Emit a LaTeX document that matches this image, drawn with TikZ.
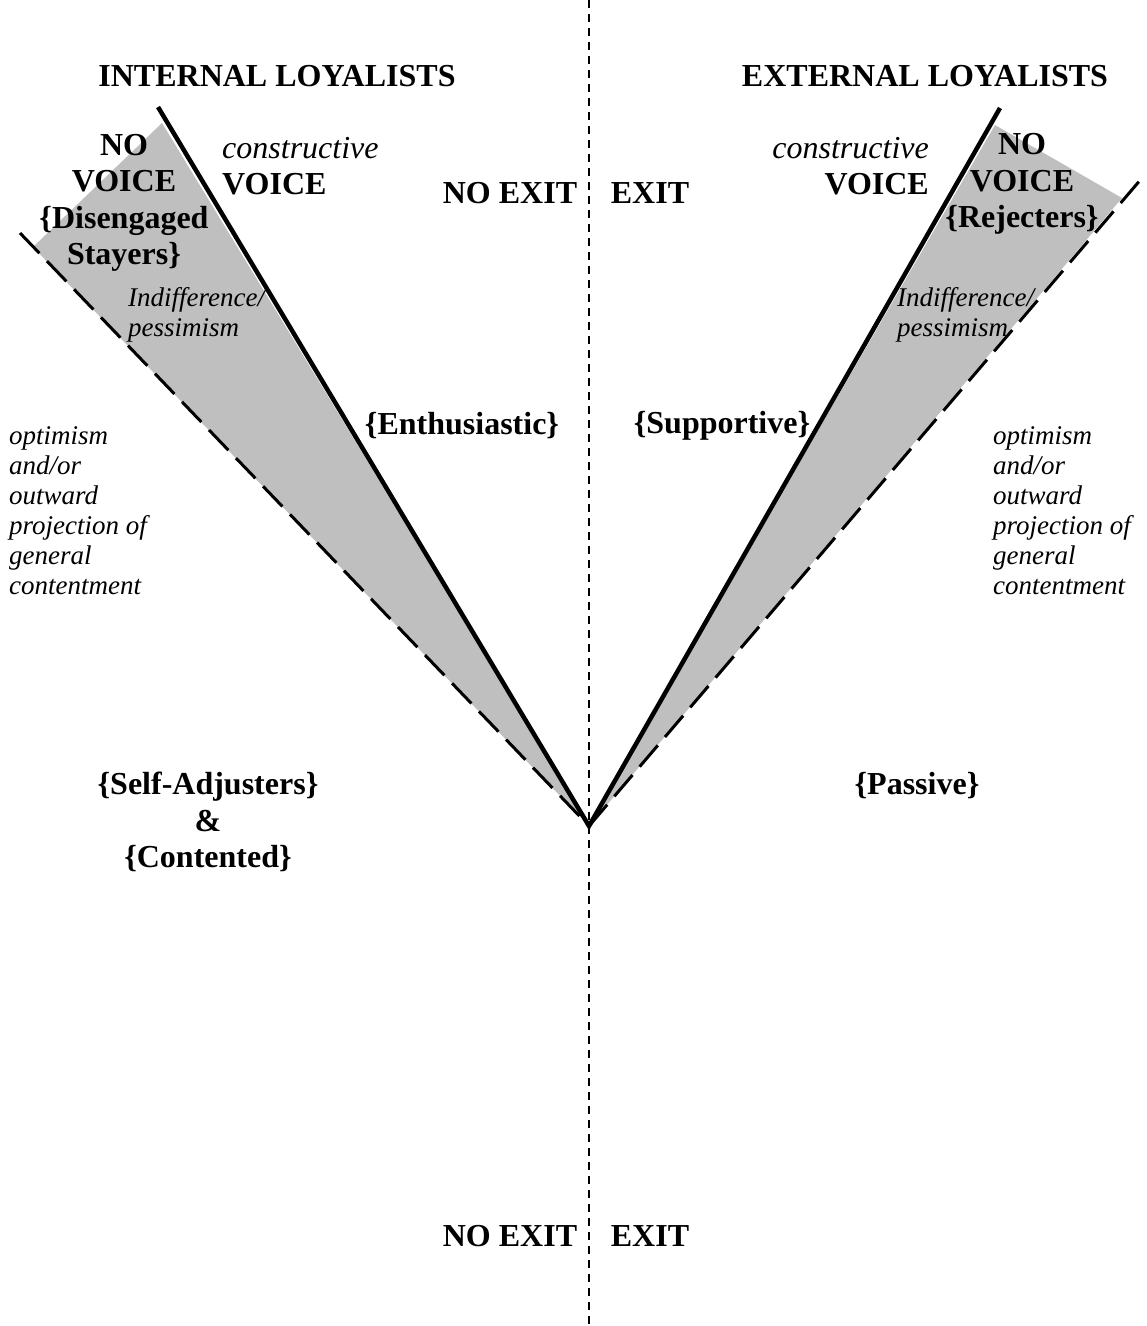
\documentclass[tikz,border=0pt]{standalone}
\usepackage{fontspec}
\setmainfont{Liberation Serif}
\begin{document}
\begin{tikzpicture}[x=1pt,y=-1pt,
    head/.style={font=\fontsize{32}{37}\selectfont\bfseries, inner sep=0pt},
    grp/.style={font=\fontsize{32}{36.5}\selectfont\bfseries, inner sep=0pt, align=center},
    small/.style={font=\fontsize{27}{30}\selectfont\itshape, inner sep=0pt, align=left},
    voiceline/.style={line width=4.5pt},
    exitline/.style={line width=3pt, dash pattern=on 28pt off 11pt},
    axis/.style={line width=1.4pt, dash pattern=on 8pt off 6pt}]
    \useasboundingbox (0,0) rectangle (1147,1326);
    \coordinate (apex) at (589,826);
    \coordinate (lTop) at (158,107);
    \coordinate (lDash) at (20,233);
    \coordinate (rTop) at (1000,108);
    \coordinate (rDash) at (1142,178);
    % Shaded wedges
    \fill[black!25] (apex) -- (162,123) -- (33,247) -- cycle;
    \fill[black!25] (apex) -- (995,125) -- (1122,198) -- cycle;
    % Boundary lines
    \draw[voiceline] (lTop) -- (apex) -- (rTop);
    \draw[exitline] (lDash) -- (apex);
    \draw[exitline] (apex) -- (rDash);
    \coordinate (axTop) at (589,0);
    \coordinate (axBot) at (589,1326);
    \draw[axis] (axTop) -- (axBot);
    % Headings
    \node[head] (intl) at (277,76) {INTERNAL LOYALISTS};
    \node[head] (extl) at (925,76) {EXTERNAL LOYALISTS};
    \node[head] (noexit1) at (510,193) {NO EXIT};
    \node[head] (exit1) at (650,193) {EXIT};
    \node[head] (noexit2) at (510,1236) {NO EXIT};
    \node[head] (exit2) at (650,1236) {EXIT};
    % Voice labels
    \node[grp] (novoiceL) at (124,203) {NO\\VOICE\\\{Disengaged\\Stayers\}};
    \node[grp] (novoiceR) at (1022,184) {NO\\VOICE\\\{Rejecters\}};
    \node[grp, anchor=west, align=left] (voiceL) at (222,166) {\textit{\mdseries constructive}\\VOICE};
    \node[grp, anchor=east, align=right] (voiceR) at (929,166) {\textit{\mdseries constructive}\\VOICE};
    \node[small, anchor=west] (indifL) at (128,315) {Indifference/\\pessimism};
    \node[small, anchor=west] (indifR) at (897,315) {Indifference/\\pessimism};
    \node[small, anchor=west] (optL) at (9,511) {optimism\\and/or\\outward\\projection of\\general\\contentment};
    \node[small, anchor=west] (optR) at (993,511) {optimism\\and/or\\outward\\projection of\\general\\contentment};
    % Groups
    \node[grp] (enth) at (462,426) {\{Enthusiastic\}};
    \node[grp] (supp) at (722,426) {\{Supportive\}};
    \node[grp] (selfadj) at (208,822) {\{Self-Adjusters\}\\\&\\\{Contented\}};
    \node[grp] (passive) at (917,786) {\{Passive\}};
\end{tikzpicture}
\end{document}
